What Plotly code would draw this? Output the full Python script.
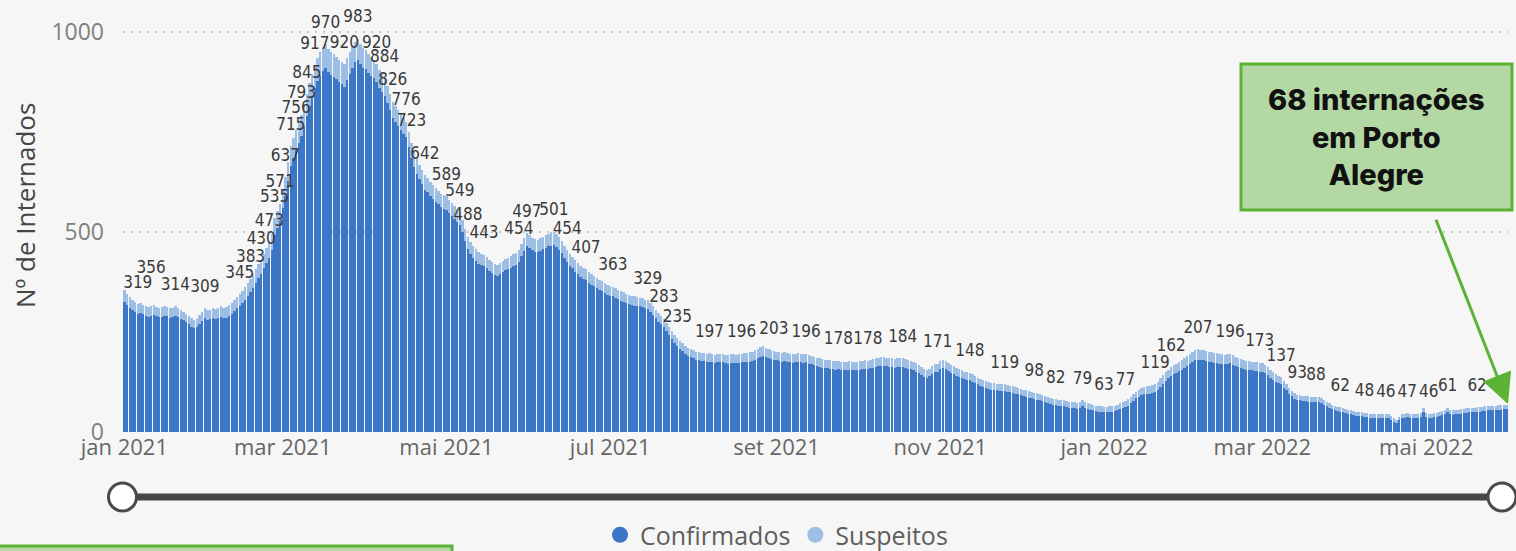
import pandas as pd
import plotly.graph_objects as go

# ---------------- DATA ----------------
inicio = "2021-01-01"

# daily total hospitalised (Confirmados + Suspeitos), 2021-01-01 .. 2022-05-31
totais = [
    356, 345, 338, 330, 326, 319, 322,
    318, 316, 312, 315, 318, 313, 310,
    312, 316, 313, 309, 311, 314, 311,
    306, 301, 296, 290, 284, 279, 283,
    292, 300, 309, 304, 306, 310, 307,
    311, 314, 309, 312, 318, 322, 330,
    338, 345, 352, 362, 372, 383, 395,
    408, 420, 430, 446, 460, 473, 496,
    535, 553, 571, 605, 637, 676, 715,
    736, 756, 775, 793, 818, 845, 872,
    895, 917, 935, 950, 962, 970, 958,
    950, 944, 938, 930, 926, 920, 935,
    950, 962, 975, 983, 970, 960, 955,
    945, 938, 930, 920, 905, 895, 884,
    865, 846, 826, 815, 805, 795, 785,
    776, 750, 723, 700, 682, 668, 655,
    642, 635, 625, 618, 610, 603, 596,
    592, 589, 580, 572, 565, 557, 549,
    530, 508, 488, 475, 465, 457, 450,
    446, 443, 438, 430, 425, 420, 418,
    422, 428, 432, 436, 440, 444, 448,
    454, 470, 485, 497, 492, 486, 482,
    480, 484, 488, 492, 496, 499, 501,
    495, 488, 478, 466, 454, 446, 438,
    430, 422, 415, 410, 407, 400, 395,
    390, 386, 381, 377, 372, 368, 365,
    363, 360, 356, 352, 349, 346, 343,
    341, 339, 337, 336, 334, 331, 329,
    322, 314, 305, 297, 290, 283, 272,
    262, 252, 243, 235, 228, 222, 216,
    211, 207, 204, 201, 199, 198, 197,
    196, 197, 195, 193, 194, 196, 195,
    193, 192, 194, 195, 193, 194, 196,
    197, 198, 199, 201, 204, 208, 212,
    214, 211, 208, 205, 203, 201, 199,
    198, 199, 197, 196, 195, 196, 197,
    196, 195, 196, 193, 190, 188, 186,
    184, 182, 181, 180, 179, 178, 177,
    178, 176, 175, 176, 177, 176, 175,
    176, 177, 178, 179, 178, 180, 182,
    184, 186, 188, 187, 186, 185, 184,
    183, 184, 185, 184, 182, 180, 178,
    176, 172, 168, 163, 158, 155, 158,
    164, 169, 171, 178, 181, 178, 173,
    168, 164, 160, 157, 154, 151, 149,
    148, 144, 140, 136, 132, 129, 127,
    125, 123, 122, 121, 120, 120, 119,
    118, 116, 114, 112, 110, 108, 106,
    104, 102, 100, 98, 97, 95, 93,
    90, 88, 85, 83, 82, 81, 80,
    79, 78, 76, 75, 74, 73, 75,
    79, 76, 72, 70, 68, 66, 65,
    64, 63, 63, 64, 65, 66, 68,
    72, 75, 77, 82, 88, 95, 101,
    106, 110, 113, 114, 115, 117, 119,
    126, 134, 142, 150, 156, 162, 167,
    171, 176, 180, 185, 190, 195, 200,
    204, 207, 206, 204, 203, 201, 199,
    198, 197, 195, 194, 193, 194, 196,
    192, 188, 185, 183, 180, 178, 177,
    176, 175, 174, 173, 172, 168, 162,
    156, 150, 145, 140, 137, 128, 120,
    111, 103, 97, 93, 92, 91, 90,
    89, 88, 88, 88, 87, 84, 80,
    76, 72, 68, 65, 63, 62, 60,
    58, 56, 55, 53, 51, 50, 49,
    48, 47, 46, 45, 44, 45, 46,
    46, 46, 45, 40, 34, 30, 38,
    44, 46, 47, 46, 45, 45, 46,
    47, 60, 48, 46, 46, 47, 48,
    50, 52, 55, 61, 56, 54, 55,
    56, 57, 58, 59, 60, 61, 61,
    62, 62, 63, 64, 65, 65, 66,
    66, 67, 67, 68, 68,
]

# daily Suspeitos (light blue part of each bar)
suspeitos = [
    30, 28, 27, 26, 25, 24, 25,
    24, 25, 24, 25, 26, 24, 23,
    24, 25, 24, 23, 24, 25, 24,
    23, 22, 22, 21, 21, 20, 21,
    22, 23, 24, 23, 24, 25, 24,
    25, 26, 25, 26, 27, 27, 28,
    29, 30, 30, 31, 32, 33, 34,
    35, 36, 36, 37, 38, 38, 40,
    42, 43, 44, 46, 47, 48, 50,
    51, 52, 52, 53, 54, 55, 56,
    57, 58, 58, 59, 60, 60, 58,
    57, 56, 55, 54, 56, 58, 55,
    54, 52, 50, 52, 50, 49, 48,
    47, 48, 46, 45, 44, 44, 43,
    42, 42, 41, 41, 40, 40, 39,
    39, 38, 38, 37, 37, 36, 36,
    36, 35, 35, 35, 34, 34, 34,
    34, 33, 33, 33, 32, 32, 32,
    31, 31, 30, 30, 30, 29, 29,
    29, 28, 28, 28, 27, 27, 27,
    27, 28, 28, 28, 29, 29, 30,
    30, 31, 32, 32, 31, 31, 31,
    30, 31, 31, 32, 32, 33, 33,
    32, 32, 31, 31, 30, 30, 29,
    29, 28, 28, 28, 27, 27, 27,
    26, 26, 26, 25, 25, 25, 25,
    24, 24, 24, 24, 23, 23, 23,
    23, 23, 22, 22, 22, 22, 22,
    22, 21, 21, 21, 21, 21, 20,
    20, 20, 20, 20, 20, 20, 20,
    20, 20, 20, 20, 20, 20, 20,
    20, 21, 20, 20, 20, 21, 21,
    21, 21, 21, 22, 21, 21, 22,
    22, 22, 23, 23, 23, 24, 24,
    24, 24, 23, 23, 23, 22, 22,
    22, 22, 22, 22, 22, 22, 22,
    22, 22, 22, 22, 21, 21, 21,
    21, 21, 21, 21, 21, 21, 21,
    21, 21, 21, 21, 21, 21, 21,
    21, 21, 21, 21, 21, 21, 21,
    22, 22, 22, 22, 22, 22, 22,
    22, 22, 22, 22, 22, 22, 21,
    21, 21, 20, 20, 20, 19, 19,
    20, 20, 20, 20, 21, 20, 20,
    20, 19, 19, 19, 19, 18, 18,
    18, 18, 18, 17, 17, 17, 17,
    17, 17, 17, 17, 17, 17, 17,
    17, 17, 17, 16, 16, 16, 16,
    16, 16, 16, 16, 16, 15, 15,
    15, 15, 15, 15, 15, 15, 15,
    15, 15, 15, 15, 15, 15, 15,
    15, 15, 14, 14, 14, 14, 14,
    14, 14, 14, 14, 14, 14, 14,
    15, 15, 15, 16, 16, 17, 17,
    18, 18, 19, 19, 19, 20, 20,
    20, 21, 21, 22, 22, 23, 23,
    23, 24, 24, 24, 25, 25, 25,
    25, 26, 26, 25, 25, 25, 25,
    25, 24, 24, 24, 24, 24, 24,
    24, 23, 23, 23, 23, 22, 22,
    22, 22, 22, 22, 21, 21, 20,
    20, 19, 19, 18, 18, 17, 16,
    15, 14, 14, 13, 13, 13, 13,
    13, 13, 13, 13, 13, 12, 12,
    12, 12, 11, 11, 11, 11, 11,
    10, 10, 10, 10, 10, 10, 10,
    10, 10, 10, 10, 10, 10, 10,
    10, 10, 10, 9, 8, 8, 9,
    10, 10, 10, 10, 10, 10, 10,
    10, 10, 10, 10, 10, 10, 10,
    10, 10, 10, 11, 11, 11, 11,
    11, 11, 11, 11, 11, 11, 11,
    11, 11, 11, 11, 11, 11, 11,
    11, 11, 11, 11, 11,
]

# days (index from 2021-01-01) that carry a data label in the reference
dias_rotulados = [0, 5, 19, 30, 43, 47, 51, 54, 56, 58, 60, 62, 64, 66, 68, 71,
                  75, 82, 87, 94, 97, 100, 105, 107, 112, 120, 125, 128, 134,
                  147, 150, 160, 165, 172, 182, 195, 201, 206, 218, 230, 242,
                  254, 266, 277, 290, 303, 315, 328, 339, 347, 357, 365, 373,
                  384, 390, 400, 412, 423, 431, 437, 444, 453, 462, 470, 478,
                  486, 493, 504]

ticks_datas = ["2021-01-01", "2021-03-01", "2021-05-01", "2021-07-01", "2021-09-01",
               "2021-11-01", "2022-01-01", "2022-03-01", "2022-05-01"]
ticks_texto = ["jan 2021", "mar 2021", "mai 2021", "jul 2021", "set 2021",
               "nov 2021", "jan 2022", "mar 2022", "mai 2022"]

series = ["Confirmados", "Suspeitos"]
anotacao = "68 internações<br>em Porto<br>Alegre"
titulo_y = "Nº de Internados"

# ---------------- DERIVED ----------------
datas = pd.date_range(inicio, periods=len(totais), freq="D")
confirmados = [t - s for t, s in zip(totais, suspeitos)]
rot_x = [datas[i] for i in dias_rotulados]
rot_y = [totais[i] for i in dias_rotulados]
rot_txt = [str(v) for v in rot_y]
rot_pos = ["top right" if i == 0 else "top center" for i in dias_rotulados]

# ---------------- STYLE / LAYOUT ----------------
W, H = 1516, 551
L, R, T, B = 123, 8, 0, 119
PW, PH = W - L - R, H - T - B
C_CONF = "#3B77C6"
C_SUSP = "#9DBFE6"
GREEN = "#5BB235"
GREEN_FILL = "#B4D8A4"
BG = "#F6F6F6"


def pxx(x):
    return (x - L) / PW


def pxy(y):
    return (PH - (y - T)) / PH


fig = go.Figure()
fig.add_trace(go.Bar(x=datas, y=confirmados, name=series[0], marker_color=C_CONF,
                     marker_line_width=0, showlegend=False, hoverinfo="skip"))
fig.add_trace(go.Bar(x=datas, y=suspeitos, name=series[1], marker_color=C_SUSP,
                     marker_line_width=0, showlegend=False, hoverinfo="skip"))
fig.add_trace(go.Scatter(x=rot_x, y=rot_y, text=rot_txt, mode="markers+text",
                         textposition=rot_pos,
                         marker=dict(size=18, color="rgba(0,0,0,0)"),
                         textfont=dict(family="DejaVu Sans Condensed", size=17, color="#3a3a3a"),
                         cliponaxis=False, showlegend=False, hoverinfo="skip"))
# legend entries (round markers)
for nome, cor in zip(series, [C_CONF, C_SUSP]):
    fig.add_trace(go.Scatter(x=[None], y=[None], mode="markers", name=nome,
                             marker=dict(size=18, color=cor, symbol="circle")))

shapes = [
    # slider track
    dict(type="line", xref="paper", yref="paper", x0=pxx(122), x1=pxx(1502),
         y0=pxy(497), y1=pxy(497), line=dict(color="#474747", width=7), layer="above"),
]
for cx in (122.5, 1502):
    shapes.append(dict(type="circle", xref="paper", yref="paper", xsizemode="pixel",
                       ysizemode="pixel", xanchor=pxx(cx), yanchor=pxy(497),
                       x0=-14, x1=14, y0=-14, y1=14, fillcolor="white",
                       line=dict(color="#4a4a4a", width=3), layer="above"))
# annotation box
shapes.append(dict(type="rect", xref="paper", yref="paper", x0=pxx(1241), x1=pxx(1512),
                   y0=pxy(210), y1=pxy(64), fillcolor=GREEN_FILL,
                   line=dict(color=GREEN, width=3), layer="above"))
# partial box at bottom-left
shapes.append(dict(type="rect", xref="paper", yref="paper", x0=pxx(-10), x1=pxx(452),
                   y0=pxy(575), y1=pxy(546), fillcolor=GREEN_FILL,
                   line=dict(color=GREEN, width=3), layer="above"))

annotations = [
    dict(text=anotacao, xref="paper", yref="paper", x=pxx(1376), y=pxy(137),
         xanchor="center", yanchor="middle", showarrow=False, align="center",
         font=dict(family="Inter", size=29, color="#111111", weight=800)),
    dict(text=" ", xref="paper", yref="paper", x=pxx(1508), y=pxy(404),
         ax=1433 - 1508, ay=212 - 404, showarrow=True, arrowhead=2, arrowsize=2,
         arrowwidth=3, arrowcolor=GREEN),
    dict(text=titulo_y, xref="paper", yref="paper", x=pxx(25), y=pxy(205),
         textangle=-90, showarrow=False, xanchor="center", yanchor="middle",
         font=dict(family="Open Sans", size=26, color="#444444")),
]

fig.update_layout(
    width=W, height=H,
    margin=dict(l=L, r=R, t=T, b=B, autoexpand=False),
    paper_bgcolor=BG, plot_bgcolor=BG,
    barmode="stack", bargap=0.12,
    font=dict(family="Open Sans", color="#666666"),
    shapes=shapes, annotations=annotations,
    showlegend=True,
    legend=dict(orientation="h", x=pxx(600), xanchor="left", y=pxy(535), yanchor="middle",
                font=dict(family="Open Sans", size=25, color="#605E5C"),
                bgcolor="rgba(0,0,0,0)", itemwidth=30, traceorder="normal"),
    xaxis=dict(type="date", range=["2020-12-31 12:00", "2022-05-31 12:00"],
               tickvals=ticks_datas, ticktext=ticks_texto, showgrid=False,
               zeroline=False, showline=False, ticks="",
               tickfont=dict(family="Open Sans", size=22, color="#666666")),
    yaxis=dict(range=[0, 1080], tickvals=[0, 500, 1000], showgrid=True,
               gridcolor="#C6C6C6", griddash="2px,6px", gridwidth=1.5, zeroline=False,
               showline=False, ticks="", ticklabelstandoff=18,
               tickfont=dict(family="Open Sans", size=23, color="#808080")),
)

fig.write_html(
    "out.html",
    config={"displayModeBar": False},
    post_script="document.body.style.margin='0';document.body.style.overflow='hidden';"
                "document.documentElement.style.overflow='hidden';",
)
